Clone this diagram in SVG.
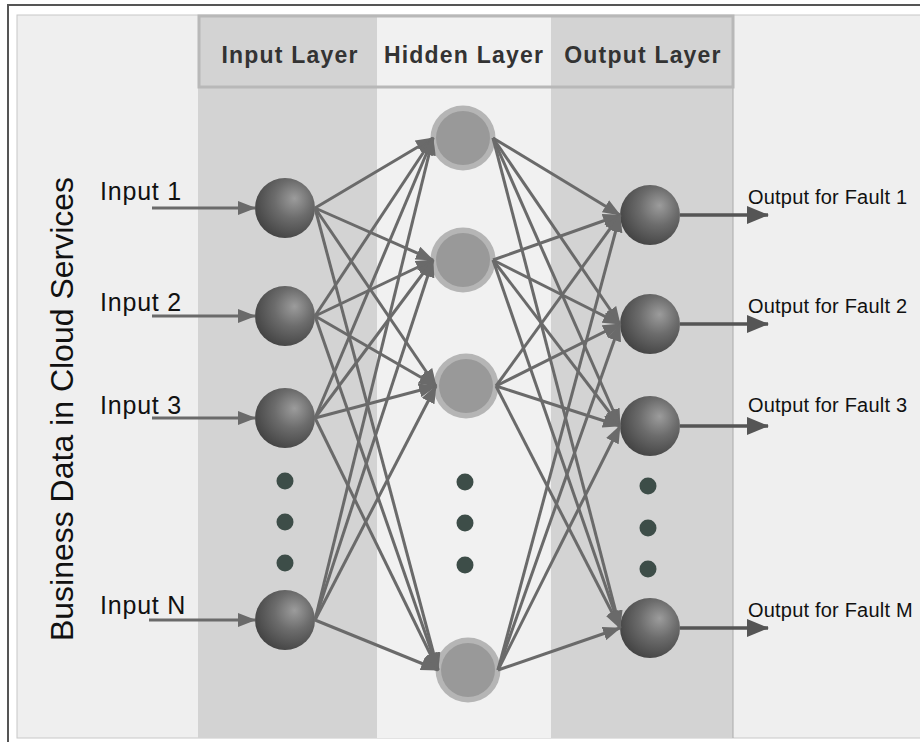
<svg xmlns="http://www.w3.org/2000/svg" width="920" height="742" viewBox="0 0 920 742">
<defs>
<style>
.lbl{font-family:"Liberation Sans",Arial,sans-serif;fill:#111}
.in{font-size:25px;letter-spacing:0.8px}
.out{font-size:20px;letter-spacing:0.2px}
.hdr{font-family:"Liberation Sans",Arial,sans-serif;font-size:23px;font-weight:bold;fill:#333;letter-spacing:1.2px;text-anchor:middle}
.edge{stroke:#6a6a6a;stroke-width:3;fill:none;marker-end:url(#ah)}
.ioarrow{stroke:#6a6a6a;stroke-width:3;fill:none;marker-end:url(#ah)}
.oarrow{stroke:#555;stroke-width:3.5;fill:none;marker-end:url(#ahd)}
.sph{fill:url(#sg)}
.ring{fill:#b5b5b5}
.core{fill:#999}
.dot{fill:#3d4d48}
</style>
<radialGradient id="sg" cx="0.62" cy="0.38" r="0.7" fx="0.66" fy="0.34">
<stop offset="0" stop-color="#9c9c9c"/>
<stop offset="0.45" stop-color="#6c6c6c"/>
<stop offset="1" stop-color="#404040"/>
</radialGradient>
<marker id="ah" markerUnits="userSpaceOnUse" viewBox="0 0 18 14" markerWidth="18" markerHeight="14" refX="17" refY="7" orient="auto">
<path d="M0,0 L18,7 L0,14 z" fill="#6a6a6a"/>
</marker>
<marker id="ahd" markerUnits="userSpaceOnUse" viewBox="0 0 22 18" markerWidth="22" markerHeight="18" refX="21" refY="9" orient="auto">
<path d="M0,0 L22,9 L0,18 z" fill="#555"/>
</marker>
</defs>

<g id="background">
<rect x="0" y="0" width="920" height="742" fill="#fff"/>
<rect x="8" y="5" width="1000" height="1000" fill="#fff" stroke="#555" stroke-width="2"/>
<rect x="17" y="15" width="1000" height="723" fill="#efefef" stroke="#c8c8c8" stroke-width="1"/>
<rect x="198" y="15" width="179" height="723" fill="#d3d3d3"/>
<rect x="377" y="15" width="174" height="723" fill="#f1f1f1"/>
<rect x="551" y="15" width="182" height="723" fill="#d3d3d3"/>
<line x1="733" y1="87" x2="733" y2="738" stroke="#aaa" stroke-width="1"/>
<rect x="199" y="16" width="534" height="71" fill="none" stroke="#b8b8b8" stroke-width="3"/>
</g>

<g id="headers">
<text class="hdr" x="290" y="63">Input Layer</text>
<text class="hdr" x="464" y="63">Hidden Layer</text>
<text class="hdr" x="643" y="63">Output Layer</text>
</g>

<g id="side-title">
<text class="lbl" font-size="32" text-anchor="middle" transform="translate(73,409) rotate(-90)">Business Data in Cloud Services</text>
</g>

<g id="input-labels">
<text class="lbl in" x="100" y="200">Input 1</text>
<text class="lbl in" x="100" y="311">Input 2</text>
<text class="lbl in" x="100" y="414">Input 3</text>
<text class="lbl in" x="100" y="614">Input N</text>
</g>

<g id="output-labels">
<text class="lbl out" x="748" y="204">Output for Fault 1</text>
<text class="lbl out" x="748" y="313">Output for Fault 2</text>
<text class="lbl out" x="748" y="412">Output for Fault 3</text>
<text class="lbl out" x="748" y="617">Output for Fault M</text>
</g>

<g id="in1"><circle class="sph" cx="285" cy="208" r="30"/></g>
<g id="in2"><circle class="sph" cx="285" cy="316" r="30"/></g>
<g id="in3"><circle class="sph" cx="285" cy="418" r="30"/></g>
<g id="inN"><circle class="sph" cx="285" cy="620" r="30"/></g>

<g id="h1"><circle class="ring" cx="463" cy="138" r="32.5"/><circle class="core" cx="463" cy="138" r="27"/></g>
<g id="h2"><circle class="ring" cx="463" cy="260" r="32.5"/><circle class="core" cx="463" cy="260" r="27"/></g>
<g id="h3"><circle class="ring" cx="466" cy="386" r="32.5"/><circle class="core" cx="466" cy="386" r="27"/></g>
<g id="hK"><circle class="ring" cx="468" cy="670" r="32.5"/><circle class="core" cx="468" cy="670" r="27"/></g>

<g id="out1"><circle class="sph" cx="650" cy="215" r="30"/></g>
<g id="out2"><circle class="sph" cx="650" cy="324" r="30"/></g>
<g id="out3"><circle class="sph" cx="650" cy="426" r="30"/></g>
<g id="outM"><circle class="sph" cx="650" cy="628" r="30"/></g>

<g id="ellipses">
<circle class="dot" cx="285" cy="481" r="8.5"/>
<circle class="dot" cx="285" cy="522" r="8.5"/>
<circle class="dot" cx="285" cy="563" r="8.5"/>
<circle class="dot" cx="465" cy="482" r="8.5"/>
<circle class="dot" cx="465" cy="523" r="8.5"/>
<circle class="dot" cx="465" cy="565" r="8.5"/>
<circle class="dot" cx="648" cy="486" r="8.5"/>
<circle class="dot" cx="648" cy="528" r="8.5"/>
<circle class="dot" cx="648" cy="569" r="8.5"/>
</g>

<g id="connectors">
<line class="ioarrow" x1="152" y1="208" x2="255" y2="208"/>
<line class="ioarrow" x1="152" y1="316" x2="255" y2="316"/>
<line class="ioarrow" x1="152" y1="418" x2="255" y2="418"/>
<line class="ioarrow" x1="149" y1="620" x2="255" y2="620"/>

<line class="edge" x1="315" y1="208" x2="433" y2="138"/>
<line class="edge" x1="315" y1="208" x2="433" y2="260"/>
<line class="edge" x1="315" y1="208" x2="436" y2="386"/>
<line class="edge" x1="315" y1="208" x2="438" y2="670"/>
<line class="edge" x1="315" y1="316" x2="433" y2="138"/>
<line class="edge" x1="315" y1="316" x2="433" y2="260"/>
<line class="edge" x1="315" y1="316" x2="436" y2="386"/>
<line class="edge" x1="315" y1="316" x2="438" y2="670"/>
<line class="edge" x1="315" y1="418" x2="433" y2="138"/>
<line class="edge" x1="315" y1="418" x2="433" y2="260"/>
<line class="edge" x1="315" y1="418" x2="436" y2="386"/>
<line class="edge" x1="315" y1="418" x2="438" y2="670"/>
<line class="edge" x1="315" y1="620" x2="433" y2="138"/>
<line class="edge" x1="315" y1="620" x2="433" y2="260"/>
<line class="edge" x1="315" y1="620" x2="436" y2="386"/>
<line class="edge" x1="315" y1="620" x2="438" y2="670"/>

<line class="edge" x1="493" y1="138" x2="620" y2="215"/>
<line class="edge" x1="493" y1="138" x2="620" y2="324"/>
<line class="edge" x1="493" y1="138" x2="620" y2="426"/>
<line class="edge" x1="493" y1="138" x2="620" y2="628"/>
<line class="edge" x1="493" y1="260" x2="620" y2="215"/>
<line class="edge" x1="493" y1="260" x2="620" y2="324"/>
<line class="edge" x1="493" y1="260" x2="620" y2="426"/>
<line class="edge" x1="493" y1="260" x2="620" y2="628"/>
<line class="edge" x1="496" y1="386" x2="620" y2="215"/>
<line class="edge" x1="496" y1="386" x2="620" y2="324"/>
<line class="edge" x1="496" y1="386" x2="620" y2="426"/>
<line class="edge" x1="496" y1="386" x2="620" y2="628"/>
<line class="edge" x1="498" y1="670" x2="620" y2="215"/>
<line class="edge" x1="498" y1="670" x2="620" y2="324"/>
<line class="edge" x1="498" y1="670" x2="620" y2="426"/>
<line class="edge" x1="498" y1="670" x2="620" y2="628"/>

<line class="oarrow" x1="680" y1="215" x2="768" y2="215"/>
<line class="oarrow" x1="680" y1="324" x2="768" y2="324"/>
<line class="oarrow" x1="680" y1="426" x2="768" y2="426"/>
<line class="oarrow" x1="680" y1="628" x2="768" y2="628"/>
</g>
</svg>
